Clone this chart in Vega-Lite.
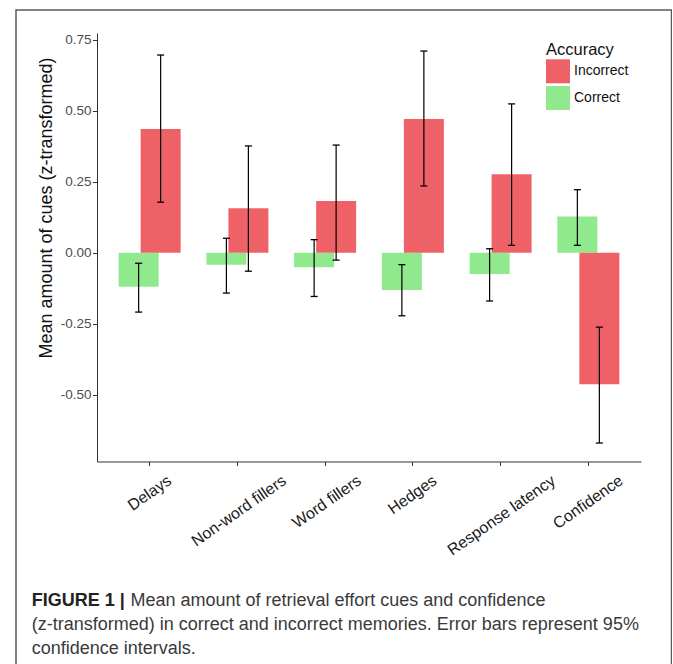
{
  "$schema": "https://vega.github.io/schema/vega-lite/v6.json",
  "autosize": {"type": "none"},
  "padding": {"left": 16, "top": 10, "right": 0, "bottom": 0},
  "width": 655.5,
  "height": 670,
  "background": "white",
  "config": {
    "font": "Liberation Sans",
    "view": {"stroke": "#5a5a5a", "strokeWidth": 1.5}
  },
  "title": {
    "text": "FIGURE 1 |",
    "subtitle": ["(z-transformed) in correct and incorrect memories. Error bars represent 95%", "confidence intervals."],
    "orient": "top",
    "anchor": "start",
    "frame": "group",
    "offset": -647.8,
    "dx": 15.7,
    "font": "Liberation Sans",
    "fontSize": 18,
    "fontWeight": "bold",
    "color": "#222222",
    "subtitleFont": "Liberation Sans",
    "subtitleFontSize": 18,
    "subtitleColor": "#3a3a3a",
    "subtitleLineHeight": 23.5,
    "subtitlePadding": 6.2
  },
  "data": {
    "values": [
      {"cue": "Delays", "accuracy": "Correct", "mean": -0.120, "lo": -0.209, "hi": -0.037},
      {"cue": "Delays", "accuracy": "Incorrect", "mean": 0.436, "lo": 0.178, "hi": 0.696},
      {"cue": "Non-word fillers", "accuracy": "Correct", "mean": -0.042, "lo": -0.142, "hi": 0.051},
      {"cue": "Non-word fillers", "accuracy": "Incorrect", "mean": 0.157, "lo": -0.065, "hi": 0.376},
      {"cue": "Word fillers", "accuracy": "Correct", "mean": -0.051, "lo": -0.154, "hi": 0.046},
      {"cue": "Word fillers", "accuracy": "Incorrect", "mean": 0.182, "lo": -0.026, "hi": 0.379},
      {"cue": "Hedges", "accuracy": "Correct", "mean": -0.131, "lo": -0.222, "hi": -0.042},
      {"cue": "Hedges", "accuracy": "Incorrect", "mean": 0.471, "lo": 0.235, "hi": 0.710},
      {"cue": "Response latency", "accuracy": "Correct", "mean": -0.075, "lo": -0.170, "hi": 0.014},
      {"cue": "Response latency", "accuracy": "Incorrect", "mean": 0.276, "lo": 0.026, "hi": 0.524},
      {"cue": "Confidence", "accuracy": "Correct", "mean": 0.128, "lo": 0.026, "hi": 0.222},
      {"cue": "Confidence", "accuracy": "Incorrect", "mean": -0.463, "lo": -0.670, "hi": -0.262}
    ]
  },
  "encoding": {
    "x": {
      "field": "cue",
      "type": "nominal",
      "sort": ["Delays", "Non-word fillers", "Word fillers", "Hedges", "Response latency", "Confidence"],
      "scale": {"range": [81, 625], "paddingInner": 0, "paddingOuter": 0.1},
      "axis": {
        "title": "Mean amount of retrieval effort cues and confidence",
        "orient": "bottom",
        "offset": -218.5,
        "domainColor": "#333333",
        "domainWidth": 1,
        "tickColor": "#333333",
        "tickSize": 4,
        "labelAngle": -35,
        "labelAlign": "right",
        "labelBaseline": "top",
        "labelFontSize": 16,
        "labelColor": "#1a1a1a",
        "labelPadding": 6.5,
        "labelOffset": {"expr": "3.674*length(datum.label) - 1.968*(length(datum.label) - length(replace(datum.label, regexp('[ilftj -]', 'g'), ''))) - 4.5"},
        "labelOverlap": false,
        "labelBound": false,
        "labelFlush": false,
        "titleFont": "Liberation Sans",
        "titleFontSize": 18,
        "titleFontWeight": "normal",
        "titleColor": "#3a3a3a",
        "titleX": 114,
        "titleY": 143.8,
        "titleAlign": "left",
        "titleBaseline": "alphabetic",
        "titleAngle": 0
      }
    }
  },
  "layer": [
    {
      "transform": [{"filter": "datum.accuracy == 'Correct'"}],
      "mark": {"type": "bar", "width": 40, "xOffset": -11},
      "encoding": {
        "y": {
          "field": "mean",
          "type": "quantitative",
          "scale": {"domain": [-0.735, 0.7736], "range": [451.5, 23], "nice": false, "zero": false},
          "axis": {
            "title": "Mean amount of cues (z-transformed)",
            "values": [-0.5, -0.25, 0, 0.25, 0.5, 0.75],
            "labelExpr": "replace(format(datum.value, '.2f'), '\u2212', '-')",
            "grid": false,
            "offset": -81,
            "domainColor": "#333333",
            "domainWidth": 1,
            "tickColor": "#333333",
            "tickSize": 4.5,
            "labelFontSize": 13.5,
            "labelColor": "#4d4d4d",
            "labelPadding": 1.5,
            "titleFontSize": 18,
            "titleFontWeight": "normal",
            "titleColor": "#111111",
            "titleX": -51,
            "titleY": 197.5,
            "titleAlign": "center",
            "titleBaseline": "middle",
            "titleAngle": -90
          }
        },
        "y2": {"datum": 0},
        "color": {
          "field": "accuracy",
          "type": "nominal",
          "scale": {"domain": ["Incorrect", "Correct"], "range": ["#EE6267", "#90EA8D"]},
          "legend": {
            "title": "Accuracy",
            "orient": "none",
            "legendX": 530,
            "legendY": 31.5,
            "padding": 0,
            "symbolType": "square",
            "symbolSize": 576,
            "symbolStrokeWidth": 0,
            "symbolOpacity": 1,
            "titleFontSize": 16.5,
            "titleFontWeight": "normal",
            "titleColor": "#111111",
            "titlePadding": 1.3,
            "labelFontSize": 14,
            "labelColor": "#111111",
            "labelOffset": 4,
            "rowPadding": 2.7
          }
        }
      }
    },
    {
      "transform": [{"filter": "datum.accuracy == 'Incorrect'"}],
      "mark": {"type": "bar", "width": 40, "xOffset": 11},
      "encoding": {
        "y": {"field": "mean", "type": "quantitative"},
        "y2": {"datum": 0},
        "color": {"field": "accuracy", "type": "nominal"}
      }
    },
    {
      "transform": [{"filter": "datum.accuracy == 'Correct'"}],
      "mark": {"type": "rule", "xOffset": -11, "color": "black", "strokeWidth": 1.2},
      "encoding": {
        "y": {"field": "lo", "type": "quantitative"},
        "y2": {"field": "hi"}
      }
    },
    {
      "transform": [{"filter": "datum.accuracy == 'Incorrect'"}],
      "mark": {"type": "rule", "xOffset": 11, "color": "black", "strokeWidth": 1.2},
      "encoding": {
        "y": {"field": "lo", "type": "quantitative"},
        "y2": {"field": "hi"}
      }
    },
    {
      "transform": [{"filter": "datum.accuracy == 'Correct'"}, {"fold": ["lo", "hi"], "as": ["end", "v"]}],
      "mark": {"type": "tick", "xOffset": -11, "color": "black", "size": 7, "thickness": 1.3, "opacity": 1, "orient": "horizontal"},
      "encoding": {
        "y": {"field": "v", "type": "quantitative"}
      }
    },
    {
      "transform": [{"filter": "datum.accuracy == 'Incorrect'"}, {"fold": ["lo", "hi"], "as": ["end", "v"]}],
      "mark": {"type": "tick", "xOffset": 11, "color": "black", "size": 7, "thickness": 1.3, "opacity": 1, "orient": "horizontal"},
      "encoding": {
        "y": {"field": "v", "type": "quantitative"}
      }
    }
  ]
}
